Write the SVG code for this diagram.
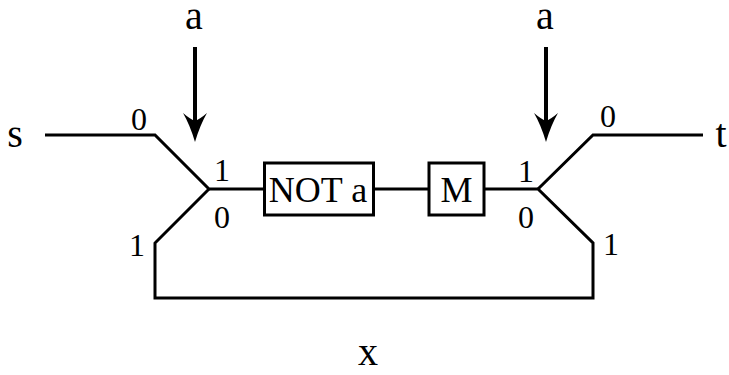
<svg xmlns="http://www.w3.org/2000/svg" width="729" height="375" viewBox="0 0 729 375">
<style>
.ln{fill:none;stroke:#000;stroke-width:3;stroke-linejoin:miter;stroke-linecap:butt}
.sh{stroke-width:4}
.box{fill:#fff;stroke:#000;stroke-width:3}
.lbl{font-family:"Liberation Serif","Times New Roman",serif;font-size:40px;fill:#000;text-anchor:middle}
.num{font-family:"Liberation Serif","Times New Roman",serif;font-size:32px;fill:#000;text-anchor:middle}
.bt{font-family:"Liberation Serif","Times New Roman",serif;font-size:36px;fill:#000;text-anchor:middle}
</style>
<defs>
<path id="head" d="M0,0 Q-5,-17 -12,-29 Q-5,-23 0,-21 Q5,-23 12,-29 Q5,-17 0,0 Z" fill="#000"/>
</defs>
<g id="connectors">
<path class="ln" d="M45,135 H155 L209,189 H264"/>
<path class="ln" d="M209,189 L155,243 V298 H593 V243 L538,189 H484"/>
<path class="ln" d="M373,189 H429"/>
<path class="ln" d="M538,189 L593,135 H703"/>
<line class="ln sh" x1="195" y1="47" x2="195" y2="124"/>
<use href="#head" x="195" y="142"/>
<line class="ln sh" x1="546" y1="47" x2="546" y2="124"/>
<use href="#head" x="546" y="142"/>
</g>
<g id="node-not">
<rect class="box" x="264.5" y="163" width="109" height="52"/>
<text class="bt" x="318" y="202">NOT a</text>
</g>
<g id="node-m">
<rect class="box" x="429" y="163" width="55" height="52"/>
<text class="bt" x="456.5" y="202">M</text>
</g>
<g id="labels">
<text class="lbl" x="194" y="29">a</text>
<text class="lbl" x="545" y="29">a</text>
<text class="lbl" x="15" y="147">s</text>
<text class="lbl" x="721" y="147">t</text>
<text class="lbl" x="368" y="365">x</text>
<text class="num" x="139" y="130">0</text>
<text class="num" x="222" y="181">1</text>
<text class="num" x="222" y="228">0</text>
<text class="num" x="137" y="256">1</text>
<text class="num" x="608" y="127">0</text>
<text class="num" x="526" y="182">1</text>
<text class="num" x="526" y="228">0</text>
<text class="num" x="611" y="255">1</text>
</g>
</svg>
